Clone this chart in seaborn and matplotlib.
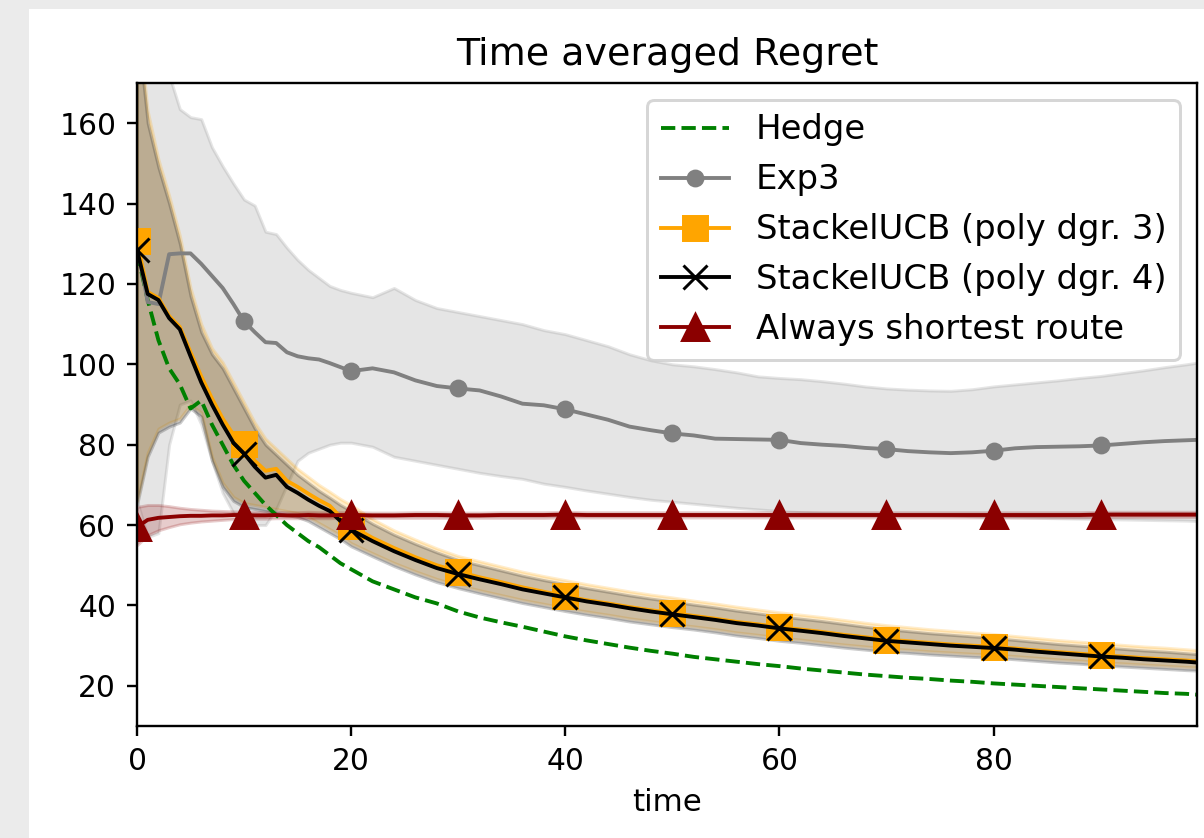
import matplotlib
matplotlib.use("Agg")
import matplotlib.pyplot as plt
from matplotlib.patches import Rectangle
import seaborn as sns

# time grid: every step up to 20, then every 2 steps
time = list(range(0, 21)) + list(range(22, 99, 2)) + [99]

hedge = [128, 116, 106, 99, 95, 89, 91, 85, 80, 75, 71, 68, 65, 62.5, 60, 58, 56, 54.5, 52.5, 50.5, 49,
         46, 44, 42, 40.5, 38.5, 37, 35.8, 34.7, 33.5, 32.3, 31.3, 30.4, 29.5, 28.7, 28, 27.2, 26.6, 26, 25.4,
         24.9, 24.3, 23.8, 23.3, 22.8, 22.4, 22, 21.7, 21.3, 21, 20.6, 20.3, 20, 19.7, 19.4, 19.1, 18.8, 18.5,
         18.2, 18, 17.8]

exp3 = [130, 115.5, 115, 127.4, 127.6, 127.6, 125, 122, 119, 115, 110.7, 108, 105.5, 105.3, 103, 102, 101.5,
        101.2, 100.3, 99.3, 98.3,
        99, 98, 96, 94.6, 94, 93.5, 92, 90.2, 89.8, 88.8, 87.5, 86.2, 84.5, 83.6, 82.8, 82.3, 81.5, 81.4, 81.3,
        81.2, 80.4, 80, 79.7, 79.2, 78.9, 78.4, 78.1, 77.9, 78.1, 78.5, 79.1, 79.4, 79.5, 79.6, 79.8, 80.2, 80.6,
        80.9, 81.1, 81.2]
exp3_lo = [66, 57, 58, 80, 90, 91, 85, 76, 68, 63, 61, 60, 60, 64, 70, 76, 78, 79, 80, 80.5, 80.5,
           79.5, 77, 76, 75, 74, 73, 72.2, 71.5, 70.3, 69.5, 68.6, 67.8, 67, 66.3, 65.8, 65.3, 64.8, 64.3, 63.9,
           63.5, 63.2, 63, 62.9, 62.8, 62.7, 62.6, 62.5, 62.4, 62.2, 62, 61.9, 61.8, 61.7, 61.6, 61.5, 61.4, 61.3,
           61.2, 61.1, 61]
exp3_hi = [200, 195, 185, 172, 163.5, 161.5, 161, 154, 149.3, 145, 141, 139.5, 133, 132.4, 129, 126, 123.5,
           121.5, 119.5, 118.5, 117.8,
           116.7, 119, 116, 114, 113, 112, 111, 110, 108.5, 107.5, 106, 104.5, 102.5, 101, 100, 99.5, 98.8, 98, 97,
           96.6, 96.3, 95.8, 95.2, 94.5, 94, 93.7, 93.5, 93.4, 93.8, 94.5, 95, 95.5, 96, 96.6, 97.1, 97.8, 98.5,
           99.3, 100, 100.4]

stackel3 = [130.6, 118, 116.5, 112, 109.3, 103, 97, 91.5, 86.5, 82.5, 80.2, 76, 73.5, 74, 71, 69.5, 67.8, 66.2,
            64.8, 62, 59.8,
            56.8, 54.3, 52, 50, 48.4, 47, 45.8, 44.5, 43.4, 42.3, 41.3, 40.5, 39.6, 38.8, 38.1, 37.4, 36.7, 35.9,
            35.3, 34.6, 34, 33.4, 32.7, 32.1, 31.5, 31.1, 30.7, 30.3, 30, 29.7, 29.3, 28.8, 28.4, 28, 27.6, 27.3,
            26.9, 26.6, 26.3, 26.1]
stackel3_lo = [66, 78, 84, 85.5, 86.5, 90, 88, 77, 70.5, 67, 65.5, 65, 64.5, 64, 63.5, 63, 62, 60.5, 59, 57.5, 55.5,
               53, 50.6, 48.5, 46.6, 45.1, 43.8, 42.6, 41.4, 40.4, 39.4, 38.5, 37.7, 36.8, 36.1, 35.4, 34.8, 34.1,
               33.3, 32.7, 32, 31.5, 30.9, 30.3, 29.8, 29.3, 29, 28.6, 28.3, 28, 27.8, 27.4, 27, 26.6, 26.3, 25.9,
               25.6, 25.3, 25, 24.7, 24.6]
stackel3_hi = [188, 163, 151, 142, 132, 119, 110, 104, 100.5, 95.5, 90.5, 85.5, 81.5, 79, 76.5, 74, 72, 70, 68.3,
               66.5, 65,
               61.5, 58.7, 56.4, 54.2, 52.3, 51, 49.7, 48.4, 47.3, 46.3, 45.3, 44.4, 43.5, 42.7, 42, 41.2, 40.5, 39.7,
               39, 38.3, 37.7, 37.1, 36.4, 35.7, 35.1, 34.6, 34.1, 33.7, 33.3, 32.9, 32.4, 31.9, 31.4, 31, 30.6,
               30.2, 29.8, 29.5, 29.1, 28.9]

stackel4 = [128.5, 117.5, 116, 111.5, 108.7, 102, 95.5, 90, 85, 80.5, 77.8, 74.5, 71.8, 72.5, 69.5, 68, 66.3,
            64.8, 63.5, 61, 58.8,
            56, 53.5, 51.3, 49.3, 47.8, 46.5, 45.3, 44, 43, 42, 41, 40.2, 39.3, 38.5, 37.8, 37.1, 36.4, 35.6, 35,
            34.3, 33.7, 33.1, 32.4, 31.8, 31.2, 30.8, 30.4, 30, 29.7, 29.4, 29, 28.5, 28.1, 27.7, 27.3, 27, 26.6,
            26.3, 26, 25.8]
stackel4_lo = [65, 77, 83, 84.5, 85.5, 89, 87, 76, 69.5, 66, 64.5, 64, 63.5, 63, 62.5, 62, 61, 59.5, 58, 56.5,
               54.7,
               52.2, 49.8, 47.7, 45.8, 44.3, 43, 41.8, 40.6, 39.6, 38.6, 37.7, 36.9, 36, 35.3, 34.6, 34, 33.3, 32.5,
               31.9, 31.2, 30.7, 30.1, 29.5, 29, 28.5, 28.2, 27.8, 27.5, 27.2, 27, 26.6, 26.2, 25.8, 25.5, 25.1,
               24.8, 24.5, 24.2, 23.9, 23.8]
stackel4_hi = [185, 160, 149, 140, 130, 117, 108, 102.5, 99, 94, 89, 84, 80, 77.5, 75, 72.5, 70.5, 68.5, 66.8, 65,
               63.5,
               60.3, 57.6, 55.3, 53.2, 51.3, 50, 48.7, 47.4, 46.3, 45.3, 44.3, 43.4, 42.5, 41.7, 41, 40.2, 39.5, 38.7,
               38, 37.3, 36.7, 36.1, 35.4, 34.7, 34.1, 33.6, 33.1, 32.7, 32.3, 31.9, 31.4, 30.9, 30.4, 30, 29.6,
               29.2, 28.8, 28.5, 28.1, 27.9]

shortest = [59.5, 61.3, 61.8, 62, 62.2, 62.3, 62.3, 62.4, 62.4, 62.5, 62.5, 62.4, 62.4, 62.5, 62.4, 62.4, 62.5,
            62.4, 62.4, 62.5, 62.5,
            62.4, 62.4, 62.5, 62.5, 62.4, 62.4, 62.5, 62.5, 62.5, 62.6, 62.5, 62.5, 62.5, 62.5, 62.5, 62.5, 62.5,
            62.5, 62.5, 62.5, 62.5, 62.5, 62.5, 62.5, 62.5, 62.5, 62.5, 62.5, 62.5, 62.5, 62.5, 62.5, 62.5, 62.5,
            62.6, 62.6, 62.6, 62.6, 62.6, 62.6]
shortest_lo = [55, 57.5, 58.7, 59.5, 60.2, 60.6, 60.9, 61.1, 61.3, 61.5, 61.6, 61.6, 61.6, 61.7, 61.7, 61.7, 61.7,
               61.7, 61.7, 61.8, 61.8,
               61.8, 61.8, 61.8, 61.8, 61.8, 61.8, 61.8, 61.8, 61.8, 61.9, 61.9, 61.9, 61.9, 61.9, 61.9, 61.9, 61.9,
               61.9, 61.9, 61.9, 61.9, 61.9, 61.9, 61.9, 61.9, 61.9, 61.9, 61.9, 61.9, 61.9, 61.9, 61.9, 61.9, 61.9,
               62, 62, 62, 62, 62, 62]
shortest_hi = [64.5, 65, 65, 64.7, 64.3, 64, 63.8, 63.6, 63.5, 63.4, 63.3, 63.3, 63.2, 63.3, 63.2, 63.2, 63.3, 63.2,
               63.2, 63.2, 63.2,
               63.1, 63.1, 63.2, 63.2, 63.1, 63.1, 63.2, 63.2, 63.2, 63.3, 63.2, 63.2, 63.2, 63.2, 63.2, 63.2, 63.2,
               63.2, 63.2, 63.2, 63.2, 63.2, 63.2, 63.2, 63.2, 63.2, 63.2, 63.2, 63.2, 63.2, 63.2, 63.2, 63.2, 63.2,
               63.3, 63.3, 63.3, 63.3, 63.3, 63.3]

labels = ['Hedge', 'Exp3', 'StackelUCB (poly dgr. 3)', 'StackelUCB (poly dgr. 4)', 'Always shortest route']

marks = [i for i, t in enumerate(time) if t % 10 == 0]

fig = plt.figure(figsize=(1204 / 214, 838 / 214), dpi=214)
# grey screenshot frame on the left and top
fig.add_artist(Rectangle((0, 0), 27 / 1204, 1, transform=fig.transFigure, color='#ebebeb', zorder=0))
fig.add_artist(Rectangle((0, 1 - 7 / 838), 1, 7 / 838, transform=fig.transFigure, color='#ebebeb', zorder=0))
ax = fig.add_axes([137 / 1204, 1 - 726 / 838, (1197 - 137) / 1204, (726 - 83) / 838])

lw = 1.3
sns.lineplot(x=time, y=hedge, color='green', linestyle='--', linewidth=lw, label=labels[0], ax=ax)

sns.lineplot(x=time, y=exp3, color='grey', linewidth=lw, marker='o', markersize=5, markevery=marks,
             markeredgecolor='grey', markeredgewidth=1, label=labels[1], ax=ax)
ax.fill_between(time, exp3_lo, exp3_hi, color='grey', alpha=0.2)

sns.lineplot(x=time, y=stackel3, color='orange', linewidth=lw, marker='s', markersize=8, markevery=marks,
             markeredgecolor='orange', markeredgewidth=1, label=labels[2], ax=ax)
ax.fill_between(time, stackel3_lo, stackel3_hi, color='orange', alpha=0.2)

sns.lineplot(x=time, y=stackel4, color='black', linewidth=lw, marker='x', markersize=8, markevery=marks,
             markeredgecolor='black', markeredgewidth=1, label=labels[3], ax=ax)
ax.fill_between(time, stackel4_lo, stackel4_hi, color='black', alpha=0.2)

sns.lineplot(x=time, y=shortest, color='darkred', linewidth=lw, marker='^', markersize=8.5, markevery=marks,
             markeredgecolor='darkred', markeredgewidth=1, label=labels[4], ax=ax)
ax.fill_between(time, shortest_lo, shortest_hi, color='darkred', alpha=0.2)

ax.set_xlim(0, 99)
ax.set_ylim(10, 170)
ax.set_yticks([20, 40, 60, 80, 100, 120, 140, 160])
ax.set_xticks([0, 20, 40, 60, 80])
ax.tick_params(labelsize=10)
ax.set_title('Time averaged Regret', fontsize=12.8)
ax.set_xlabel('time', fontsize=10.4)
ax.legend(loc='upper right', fontsize=11.4)

fig.savefig('out.png', dpi=214)
